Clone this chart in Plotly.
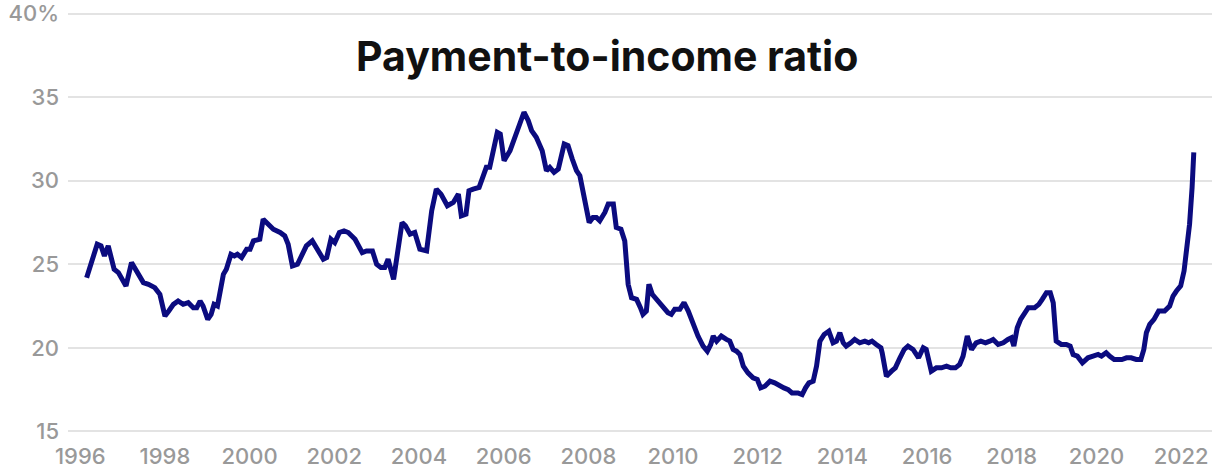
import plotly.graph_objects as go

# Decimal year of each observation
years = [
    1996.15, 1996.27, 1996.40, 1996.49, 1996.57, 1996.66, 1996.72, 1996.80, 1996.90,
    1997.08, 1997.21, 1997.33, 1997.49, 1997.61, 1997.76, 1997.88,
    1998.00, 1998.09, 1998.20, 1998.31, 1998.43, 1998.55, 1998.67, 1998.75, 1998.83, 1998.90,
    1999.01, 1999.09, 1999.16, 1999.24, 1999.38, 1999.45, 1999.56, 1999.64, 1999.71, 1999.81, 1999.93,
    2000.01, 2000.09, 2000.24, 2000.32, 2000.44, 2000.56, 2000.72, 2000.83, 2000.91,
    2001.01, 2001.13, 2001.23, 2001.34, 2001.48, 2001.60, 2001.74, 2001.82, 2001.92,
    2002.01, 2002.12, 2002.23, 2002.33, 2002.49, 2002.66, 2002.76, 2002.90,
    2003.00, 2003.10, 2003.19, 2003.27, 2003.40, 2003.60, 2003.68, 2003.79, 2003.90,
    2004.02, 2004.18, 2004.30, 2004.41, 2004.52, 2004.67, 2004.81, 2004.93,
    2005.00, 2005.11, 2005.18, 2005.28, 2005.42, 2005.52, 2005.59, 2005.67, 2005.85, 2005.92,
    2006.01, 2006.15, 2006.22, 2006.33, 2006.48, 2006.58, 2006.66, 2006.77, 2006.91,
    2007.01, 2007.09, 2007.19, 2007.29, 2007.43, 2007.52, 2007.62, 2007.72, 2007.80, 2007.88, 2007.93,
    2008.02, 2008.11, 2008.19, 2008.27, 2008.39, 2008.47, 2008.59, 2008.66, 2008.77, 2008.86, 2008.94,
    2009.02, 2009.14, 2009.23, 2009.29, 2009.37, 2009.43, 2009.51, 2009.65, 2009.77, 2009.88, 2009.96,
    2010.04, 2010.16, 2010.26, 2010.36, 2010.47, 2010.59, 2010.71, 2010.81, 2010.89, 2010.95,
    2011.03, 2011.14, 2011.26, 2011.34, 2011.42, 2011.50, 2011.58, 2011.66, 2011.77, 2011.89, 2011.99,
    2012.07, 2012.17, 2012.29, 2012.40, 2012.52, 2012.62, 2012.72, 2012.81, 2012.95,
    2013.05, 2013.13, 2013.21, 2013.31, 2013.39, 2013.47, 2013.57, 2013.68, 2013.78, 2013.86, 2013.94,
    2014.02, 2014.09, 2014.20, 2014.29, 2014.41, 2014.53, 2014.62, 2014.70, 2014.80, 2014.91, 2014.94,
    2015.04, 2015.16, 2015.25, 2015.36, 2015.46, 2015.55, 2015.67, 2015.80, 2015.91, 2015.98,
    2016.10, 2016.22, 2016.34, 2016.46, 2016.56, 2016.67, 2016.77, 2016.85, 2016.95,
    2017.05, 2017.16, 2017.27, 2017.38, 2017.48, 2017.56, 2017.68, 2017.80, 2017.91, 2017.99,
    2018.05, 2018.13, 2018.21, 2018.31, 2018.39, 2018.54, 2018.64, 2018.72, 2018.82, 2018.91, 2018.98,
    2019.05, 2019.17, 2019.29, 2019.38, 2019.45, 2019.55, 2019.67, 2019.80, 2019.92,
    2020.04, 2020.12, 2020.23, 2020.31, 2020.42, 2020.51, 2020.60, 2020.71, 2020.82, 2020.94,
    2021.05, 2021.12, 2021.18, 2021.26, 2021.36, 2021.47, 2021.61, 2021.73, 2021.81, 2021.89, 2021.99,
    2022.07, 2022.15, 2022.20, 2022.26, 2022.30,
]

# Payment-to-income ratio, percent
ratio = [
    24.2, 25.2, 26.2, 26.1, 25.5, 26.1, 25.5, 24.7, 24.5,
    23.7, 25.1, 24.6, 23.9, 23.8, 23.6, 23.2,
    21.9, 22.2, 22.6, 22.8, 22.6, 22.7, 22.4, 22.4, 22.8, 22.5,
    21.7, 22.0, 22.6, 22.5, 24.4, 24.7, 25.6, 25.5, 25.6, 25.4, 25.9,
    25.9, 26.4, 26.5, 27.7, 27.4, 27.1, 26.9, 26.7, 26.2,
    24.9, 25.0, 25.5, 26.1, 26.4, 25.9, 25.3, 25.4, 26.5,
    26.3, 26.9, 27.0, 26.9, 26.5, 25.7, 25.8, 25.8,
    25.0, 24.8, 24.8, 25.3, 24.1, 27.5, 27.3, 26.8, 26.9,
    25.9, 25.8, 28.2, 29.5, 29.2, 28.5, 28.7, 29.2,
    27.9, 28.0, 29.4, 29.5, 29.6, 30.3, 30.8, 30.8, 32.9, 32.8,
    31.2, 31.8, 32.3, 33.2, 34.1, 33.6, 33.0, 32.6, 31.8,
    30.6, 30.8, 30.5, 30.7, 32.2, 32.1, 31.3, 30.6, 30.3, 29.3, 28.9,
    27.5, 27.8, 27.8, 27.6, 28.1, 28.6, 28.6, 27.2, 27.1, 26.4, 23.8,
    23.0, 22.9, 22.4, 22.0, 22.2, 23.8, 23.2, 22.8, 22.5, 22.1, 22.0,
    22.3, 22.3, 22.7, 22.2, 21.4, 20.7, 20.1, 19.8, 20.2, 20.7,
    20.4, 20.7, 20.5, 20.4, 19.9, 19.8, 19.6, 18.9, 18.5, 18.2, 18.1,
    17.6, 17.7, 18.0, 17.9, 17.7, 17.6, 17.5, 17.3, 17.3,
    17.2, 17.6, 17.9, 18.0, 18.9, 20.4, 20.8, 21.0, 20.3, 20.4, 20.9,
    20.3, 20.1, 20.3, 20.5, 20.3, 20.4, 20.3, 20.4, 20.2, 20.0, 19.7,
    18.3, 18.6, 18.8, 19.4, 19.9, 20.1, 19.9, 19.4, 20.0, 19.9,
    18.6, 18.8, 18.8, 18.9, 18.8, 18.8, 19.0, 19.5, 20.7,
    19.9, 20.3, 20.4, 20.3, 20.4, 20.5, 20.2, 20.3, 20.5, 20.6,
    20.1, 21.2, 21.7, 22.1, 22.4, 22.4, 22.6, 22.9, 23.3, 23.3, 22.7,
    20.4, 20.2, 20.2, 20.1, 19.6, 19.5, 19.1, 19.4, 19.5,
    19.6, 19.5, 19.7, 19.5, 19.3, 19.3, 19.3, 19.4, 19.4, 19.3,
    19.3, 19.9, 20.9, 21.4, 21.7, 22.2, 22.2, 22.5, 23.1, 23.4, 23.7,
    24.6, 26.0, 27.4, 29.6, 31.7,
]

x_tick_vals = [1996, 1998, 2000, 2002, 2004, 2006, 2008, 2010, 2012, 2014, 2016, 2018, 2020, 2022]
x_tick_text = [str(v) for v in x_tick_vals]
y_tick_vals = [15, 20, 25, 30, 35, 40]
y_tick_text = ["15", "20", "25", "30", "35", "40%"]
title_text = "Payment-to-income ratio"

tick_font = dict(family="Inter, Lato, sans-serif", size=22, color="#999999", weight=500)

fig = go.Figure()
fig.add_trace(go.Scatter(
    x=years, y=ratio, mode="lines",
    line=dict(color="#0b0b7f", width=5, shape="linear"),
    hoverinfo="x+y", showlegend=False,
))

fig.update_layout(
    width=1217, height=472,
    margin=dict(l=68, r=5, t=12, b=39, autoexpand=False),
    paper_bgcolor="white", plot_bgcolor="white",
    font=dict(family="Inter, Lato, sans-serif", color="#999999"),
    xaxis=dict(
        range=[1995.71, 2022.73],
        tickvals=x_tick_vals, ticktext=x_tick_text,
        showgrid=False, zeroline=False, showline=False,
        ticks="", tickfont=tick_font,
        ticklabelstandoff=8,
        automargin=False,
        fixedrange=True,
    ),
    yaxis=dict(
        range=[14.9, 40.1],
        tickvals=y_tick_vals, ticktext=y_tick_text,
        showgrid=True, gridcolor="#e3e3e3", gridwidth=2,
        zeroline=False, showline=False,
        ticks="", tickfont=tick_font,
        ticklabelstandoff=8,
        automargin=False,
        fixedrange=True,
    ),
    annotations=[dict(
        text="<b>" + title_text + "</b>",
        xref="paper", yref="paper", x=0.471, y=0.895,
        xanchor="center", yanchor="middle", showarrow=False,
        font=dict(family="Inter, sans-serif", size=41, color="#111111"),
    )],
)

fig.write_html("out.html")
